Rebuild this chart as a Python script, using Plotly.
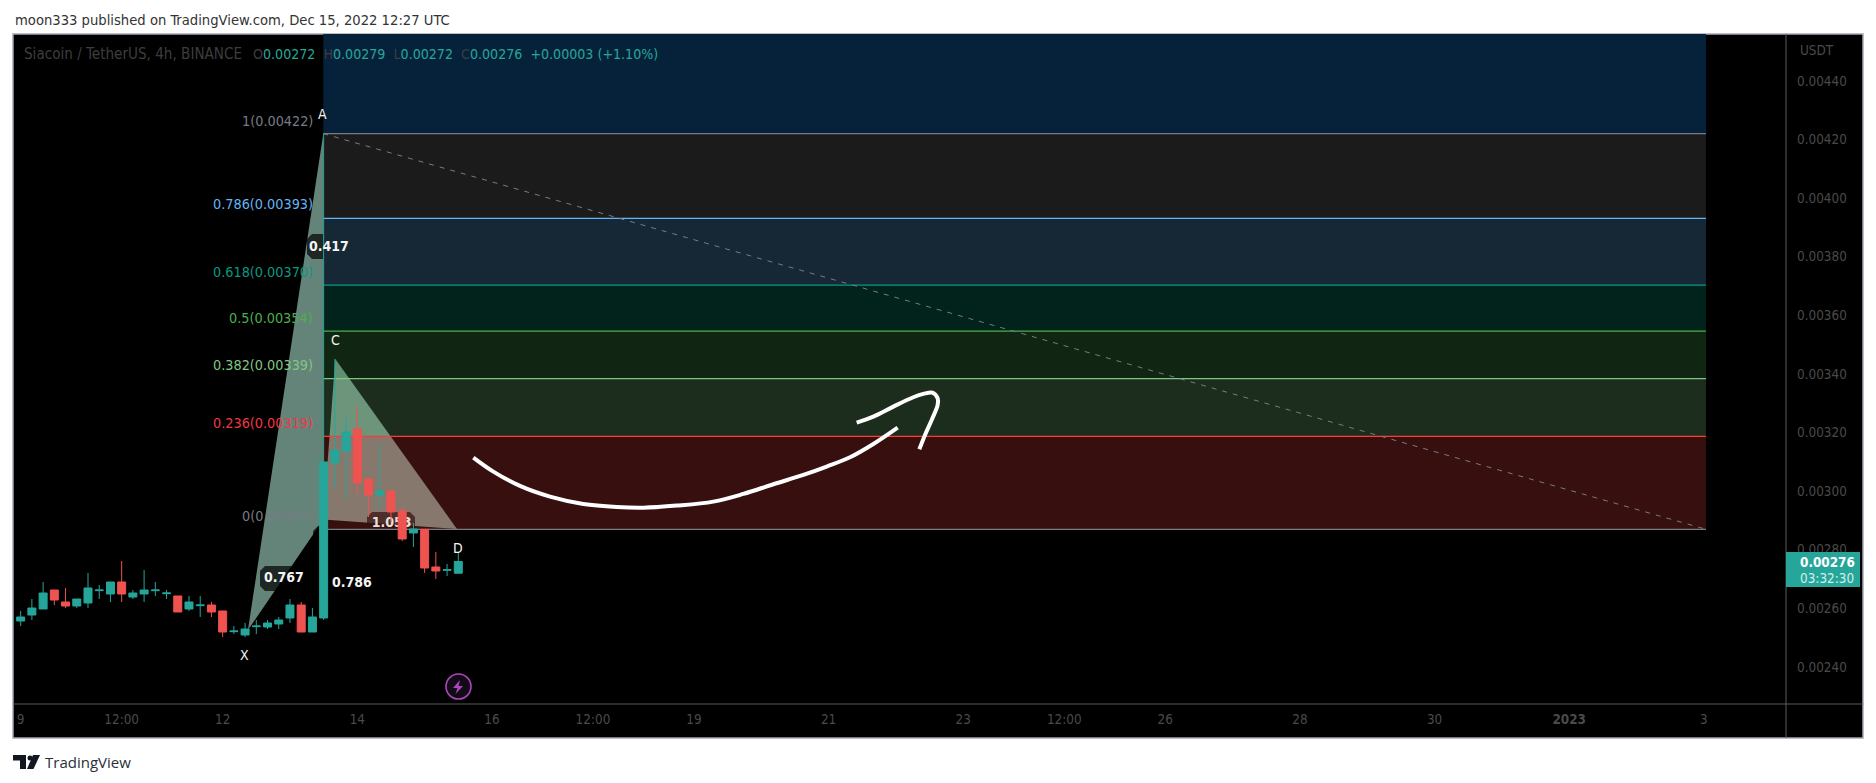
import pandas as pd
import plotly.graph_objects as go

# ---------- data ----------
base = pd.Timestamp("2022-12-14")
opens = [.0025467,.0025569,.0025774,.0025979,.0026627,.0026218,.0026081,.0026184,.0026605,.0026491,.0026900,.0026388,
         .0026491,.0026605,.0026502,.0026423,.0025979,.0026093,.0026115,.0025911,.0025205,.0025092,.0025376,.0025364,
         .0025467,.0025672,.0026115,.0025194,.0025672,.0030962,.0031372,.0032123,.0030416,.0029870,.0030006,.0029324,
         .0028573,.0028698,.0027412,.0027299,.00272]
highs = [.0025800,.0025911,.0026320,.0026900,.0026627,.0026696,.0026320,.0027208,.0026798,.0026900,.0027617,.0026627,
         .0027310,.0026900,.0026627,.0026423,.0026423,.0026423,.0026218,.0025911,.0025399,.0025501,.0025603,.0025603,
         .0025706,.0026320,.0026218,.0026013,.00422,.0034512,.0032498,.0032908,.0030416,.0031611,.0030006,.0029495,
         .0028914,.0028698,.0027925,.0027515,.00279]
lows = [.0025300,.0025399,.0025603,.0025979,.0026115,.0026013,.0026013,.0026013,.0026320,.0026218,.0026218,.0026320,
        .0026218,.0026423,.0026320,.0025877,.0025911,.0025706,.0025706,.0025023,.0025126,.0025023,.0025126,.0025296,
        .0025296,.0025501,.0025194,.0025194,.0025603,.0030109,.0029699,.0029904,.0029119,.0029426,.0028948,.0028300,
        .0028095,.0027208,.0027003,.0027105,.00272]
closes = [.0025706,.0025706,.0026013,.0026525,.0026286,.0026081,.0026320,.0026696,.0026627,.0026900,.0026491,.0026525,
          .0026627,.0026627,.0026525,.0025877,.0026218,.0026115,.0025877,.0025194,.0025228,.0025296,.0025399,.0025501,
          .0025603,.0026115,.0025194,.0025706,.0030997,.0031406,.0032020,.0030280,.0029870,.0030006,.0029290,.0028368,
          .0028709,.0027378,.0027276,.0027321,.00276]

fib_ratios = ["1", "0.786", "0.618", "0.5", "0.382", "0.236", "0"]
fib_levels = [.00422, .003931, .003703, .003546, .003384, .003187, .00287]
fib_labels = ["0.00422", "0.00393", "0.00370", "0.00354", "0.00339", "0.00319", "0.00287"]
fib_colors = ["#787b86", "#64b5f6", "#089981", "#4caf50", "#81c784", "#f23645", "#787b86"]
line_colors = ["#787b86", "#64b5f6", "#089981", "#4caf50", "#81c784", "#ff3a30", "#787b86"]
fib_fills = ["rgba(125,125,125,.22)", "rgba(100,181,246,.22)", "rgba(8,153,129,.22)",
             "rgba(76,175,80,.22)", "rgba(129,199,132,.22)", "rgba(245,68,62,.22)"]

# harmonic points: X, A, B, C, D as (days from Dec 14, price)
pat_days = [-1.624, -0.505, -0.505, -0.327, 1.48]
pat_price = [.002526, .00422, .002903, .0034512, .002871]

arrow_days = [1.7234,2.0204,2.4165,2.8621,3.3572,3.8523,4.2484,4.7435,5.2881,5.7337,6.1793,6.6249,6.9715,7.3180,7.6646,8.0260]
arrow_price = [.0031145,.0030667,.0030178,.0029814,.0029563,.0029461,.0029438,.0029507,.0029643,.0029905,.0030235,.0030553,.0030838,.0031156,.0031611,.0032169]
head_days = [7.4170,7.6646,7.9617,8.2587,8.4072,8.5409,8.6201,8.6201,8.5310,8.4320,8.3478]
head_price = [.0032339,.0032544,.0032886,.0033204,.0033318,.0033363,.0033170,.0032942,.0032430,.0031918,.0031429]

price_ticks = [.0024,.0026,.0028,.0030,.0032,.0034,.0036,.0038,.0040,.0042,.0044]
time_ticks = ["2022-12-09","2022-12-10 12:00","2022-12-12","2022-12-14","2022-12-16","2022-12-17 12:00","2022-12-19",
              "2022-12-21","2022-12-23","2022-12-24 12:00","2022-12-26","2022-12-28","2022-12-30","2023-01-01","2023-01-03"]
time_labels = ["9","12:00","12","14","16","12:00","19","21","23","12:00","26","28","30","<b>2023</b>","3"]

times = [base + pd.Timedelta(hours=4 * (i - 31)) for i in range(len(opens))]

# ---------- geometry ----------
W, H = 1876, 783
L, R, T, B = 13, 1786, 34, 704
FONT = "DejaVu Sans Condensed"
XR = ["2022-12-08 21:16", "2023-01-04 05:17"]
YR = [.0022737, .00456]
D = lambda d: base + pd.Timedelta(days=d)
PXD = lambda x: D((x - 357.3) / 67.33)          # pixel -> time
PYP = lambda y: .0024 + (667 - y) / 293000      # pixel -> price
PX = lambda x: (x - L) / (R - L)                # pixel -> paper
PY = lambda y: 1 - (y - T) / (B - T)

fig = go.Figure()

# pattern polygons
fig.add_trace(go.Scatter(x=[D(pat_days[i]) for i in (0, 1, 2, 0)], y=[pat_price[i] for i in (0, 1, 2, 0)],
                         mode="lines", fill="toself", fillcolor="rgb(101,132,121)", line=dict(width=0), hoverinfo="skip"))
fig.add_trace(go.Scatter(x=[D(pat_days[i]) for i in (2, 3, 4, 2)], y=[pat_price[i] for i in (2, 3, 4, 2)],
                         mode="lines", fill="toself", fillcolor="rgb(103,135,122)", line=dict(width=0), hoverinfo="skip"))


def rbox(l, r, t, b, c=5):
    px = [l + c, r - c, r, r, r - c, l + c, l, l, l + c]
    py = [t, t, t + c, b - c, b, b, b - c, t + c, t]
    fig.add_trace(go.Scatter(x=[PXD(v) for v in px], y=[PYP(v) for v in py], mode="lines", fill="toself",
                             fillcolor="rgba(0,0,0,.7)", line=dict(width=0), hoverinfo="skip"))


rbox(307, 350, 234, 259)
rbox(260, 306, 566, 591)
rbox(367, 415, 512, 537)
rbox(313, 340, 526, 560)

# fib bands
x0, x1 = D(pat_days[1]), PXD(1706)
tops = [YR[1]] + fib_levels[:-1]
bots = fib_levels
fills = ["#06223a"] + fib_fills
for t_, b_, c_ in zip(tops, bots, fills):
    fig.add_trace(go.Scatter(x=[x0, x1, x1, x0, x0], y=[t_, t_, b_, b_, t_], mode="lines", fill="toself",
                             fillcolor=c_, line=dict(width=0), hoverinfo="skip"))
for lv, c_ in zip(fib_levels, line_colors):
    fig.add_trace(go.Scatter(x=[x0, x1], y=[lv, lv], mode="lines", line=dict(color=c_, width=1.25), hoverinfo="skip"))
# dashed trend
fig.add_trace(go.Scatter(x=[x0, x1], y=[fib_levels[0], fib_levels[-1]], mode="lines",
                         line=dict(color="#787b86", width=1, dash="5px,6px"), hoverinfo="skip"))
# hand arrow
for xs, ys in ((arrow_days, arrow_price), (head_days, head_price)):
    fig.add_trace(go.Scatter(x=[D(v) for v in xs], y=ys, mode="lines",
                             line=dict(color="#ffffff", width=4, shape="spline"), hoverinfo="skip"))
# label under candles
fig.add_trace(go.Scatter(x=[PXD(391.7)], y=[PYP(524)], mode="text", text=["<b>1.053</b>"],
                         textfont=dict(family=FONT, size=14, color="#e8e0de"), hoverinfo="skip"))
# candles on an overlay so that they sit above everything else
fig.add_trace(go.Candlestick(x=times, open=opens, high=highs, low=lows, close=closes, xaxis="x2", yaxis="y2",
                             increasing=dict(line=dict(color="#26a69a", width=1), fillcolor="#26a69a"),
                             decreasing=dict(line=dict(color="#ef5350", width=1), fillcolor="#ef5350"),
                             hoverinfo="skip"))

shapes = [
    dict(type="rect", xref="paper", yref="paper", x0=PX(13), x1=PX(1863), y0=PY(738), y1=PY(34), layer="below",
         fillcolor="#000000", line=dict(color="#a5a7b3", width=1.5)),
    dict(type="line", xref="paper", yref="paper", x0=PX(1786), x1=PX(1786), y0=PY(738), y1=PY(34),
         line=dict(color="#5a5a5a", width=1), layer="above"),
    dict(type="line", xref="paper", yref="paper", x0=PX(13), x1=PX(1863), y0=PY(704), y1=PY(704),
         line=dict(color="#5a5a5a", width=1), layer="above"),
    dict(type="rect", xref="paper", yref="paper", x0=PX(1786), x1=PX(1860), y0=PY(587), y1=PY(552),
         fillcolor="#26a69a", line=dict(width=0), layer="above"),
    dict(type="circle", xref="paper", yref="paper", x0=PX(446), x1=PX(471), y0=PY(699), y1=PY(674),
         fillcolor="#120a16", line=dict(color="#ab47bc", width=1.6), layer="above"),
]


def path(points):
    return "M " + " L ".join(f"{PX(a)} {PY(b)}" for a, b in points) + " Z"


shapes += [
    dict(type="path", xref="paper", yref="paper", layer="above", fillcolor="#ab47bc", line=dict(width=0),
         path=path([(460, 680), (453, 688), (457.5, 688), (455.5, 694), (463, 686), (458.5, 686)])),
    # TradingView logo
    dict(type="path", xref="paper", yref="paper", layer="above", fillcolor="#131722", line=dict(width=0),
         path=path([(13, 755), (26, 755), (26, 769), (20, 769), (20, 760.5), (13, 760.5)])),
    dict(type="circle", xref="paper", yref="paper", layer="above", fillcolor="#131722", line=dict(width=0),
         x0=PX(27.5), x1=PX(32.5), y0=PY(760.5), y1=PY(755.5)),
    dict(type="path", xref="paper", yref="paper", layer="above", fillcolor="#131722", line=dict(width=0),
         path=path([(33, 755), (40, 755), (33.5, 769), (27, 769)])),
]

ann = []


def text(x, y, s, color, size=13, anchor="center", font=FONT):
    ann.append(dict(xref="paper", yref="paper", x=PX(x), y=PY(y), text=s, showarrow=False, xanchor=anchor,
                    yanchor="middle", align="left", font=dict(family=font, size=size, color=color)))


for r_, lv, lb, c_, y_ in zip(fib_ratios, fib_levels, fib_labels, fib_colors, [121, 204, 272, 318, 365, 423, 516]):
    ann.append(dict(xref="x", yref="paper", x=PXD(315), y=PY(y_), xanchor="right", yanchor="middle", showarrow=False,
                    text=f"{r_}({lb})", font=dict(family=FONT, size=14.3, color=c_)))
for x_, y_, s_ in ((322.7, 114, "A"), (335, 340, "C"), (245, 655, "X"), (458, 548, "D")):
    text(x_, y_, s_, "#f4f4f4", 14)
for x_, y_, s_ in ((328.5, 245.7, "0.417"), (283.5, 577, "0.767"), (351.7, 582, "0.786")):
    text(x_, y_, f"<b>{s_}</b>", "#f4f4f4", 14)

text(13, 19, "moon333 published on TradingView.com, Dec 15, 2022 12:27 UTC", "#333333", 14.65, "left")
G = "#3d3d3d"
T_ = "#26a69a"
text(22, 54, "Siacoin / TetherUS, 4h, BINANCE", G, 15.1, "left")
legend = (f'<span style="color:{G}">O</span>'
          f'<span style="color:{T_}">0.00272&nbsp;&nbsp;</span><span style="color:{G}">H</span>'
          f'<span style="color:{T_}">0.00279&nbsp;&nbsp;</span><span style="color:{G}">L</span>'
          f'<span style="color:{T_}">0.00272&nbsp;&nbsp;</span><span style="color:{G}">C</span>'
          f'<span style="color:{T_}">0.00276&nbsp;&nbsp;+0.00003 (+1.10%)</span>')
text(251, 54, legend, G, 14.1, "left")
text(1798, 51, "USDT", "#4a4a4a", 13.4, "left")
text(1798, 562, "<b>0.00276</b>", "#ffffff", 13.4, "left")
text(1798, 578, "03:32:30", "#d4eeeb", 13.4, "left")
text(43, 762, "TradingView", "#2a2e39", 15, "left", "Open Sans")

axis_font = dict(family=FONT, size=13.4, color="#4a4a4a")
fig.update_layout(
    width=W, height=H, margin=dict(l=L, r=W - R, t=T, b=H - B, pad=0), showlegend=False,
    paper_bgcolor="#ffffff", plot_bgcolor="#000000", shapes=shapes, annotations=ann, hovermode=False,
    boxgap=0, boxgroupgap=.287,
    xaxis=dict(type="date", range=XR, tickmode="array", tickvals=time_ticks, ticktext=time_labels, tickfont=axis_font,
               showgrid=False, zeroline=False, showline=False, ticks="", ticklabelstandoff=6,
               rangeslider=dict(visible=False)),
    yaxis=dict(range=YR, tickmode="array", tickvals=price_ticks, ticktext=[f"{v:.5f}" for v in price_ticks],
               tickfont=axis_font, side="right", showgrid=False, zeroline=False, showline=False, ticks="",
               ticklabelstandoff=10),
    xaxis2=dict(type="date", range=XR, overlaying="x", visible=False, rangeslider=dict(visible=False)),
    yaxis2=dict(range=YR, overlaying="y", visible=False),
)
fig.write_html("out.html", config=dict(displayModeBar=False),
               post_script="document.body.style.margin='0';document.body.style.overflow='hidden';")
